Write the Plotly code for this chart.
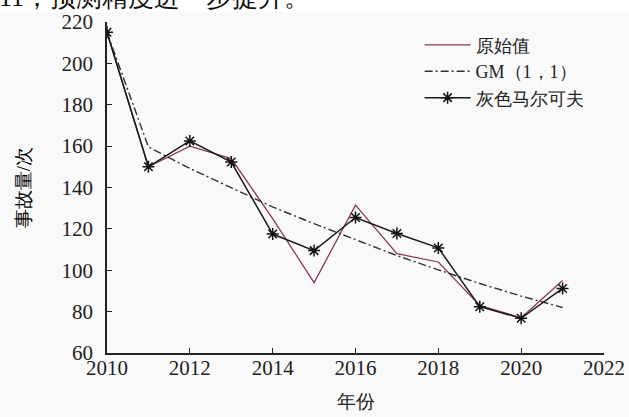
import plotly.graph_objects as go

# Accident counts per year: observed values and two forecast models
years = [2010, 2011, 2012, 2013, 2014, 2015, 2016, 2017, 2018, 2019, 2020, 2021]
original = [215, 150, 160, 154, 125, 94, 131.5, 108, 104, 83, 77, 95]
gm11 = [215, 159.6, 149.2, 139.8, 130.6, 122.5, 114.8, 107.1, 100.2, 93.6, 87.5, 82.0]
grey_markov = [215, 150, 162.5, 152.3, 117.5, 109.5, 125.5, 117.8, 110.8, 82.4, 76.8, 91.2]

x_ticks = [2010, 2012, 2014, 2016, 2018, 2020, 2022]
y_ticks = [60, 80, 100, 120, 140, 160, 180, 200, 220]

FONT = "Liberation Serif"
INK = "#222222"
BG = "#f9f9f9"

fig = go.Figure()
fig.add_trace(go.Scatter(
    x=years, y=original, name="原始值", mode="lines",
    line=dict(color="#8a3a4c", width=1.3),
))
fig.add_trace(go.Scatter(
    x=years, y=gm11, name="GM（1，1）", mode="lines",
    line=dict(color="#333333", width=1.4, dash="8px,3px,2px,3px"),
))
fig.add_trace(go.Scatter(
    x=years, y=grey_markov, name="灰色马尔可夫", mode="lines+markers",
    line=dict(color="#1a1a1a", width=1.5),
    marker=dict(symbol="asterisk-open", size=10, color="#111111",
                line=dict(color="#111111", width=1.5)),
))

fig.update_layout(
    width=629, height=417,
    margin=dict(l=107, r=25, t=22, b=64, pad=0, autoexpand=False),
    paper_bgcolor=BG, plot_bgcolor=BG,
    font=dict(family=FONT, size=21, color=INK),
    showlegend=True,
    legend=dict(
        x=0.629, y=0.986, xanchor="left", yanchor="top",
        bgcolor="rgba(0,0,0,0)", borderwidth=0,
        font=dict(family=FONT, size=18, color=INK),
        tracegroupgap=0, itemwidth=46,
    ),
    xaxis=dict(
        range=[2010, 2022], tickmode="array", tickvals=x_ticks,
        ticktext=[str(v) for v in x_ticks],
        tickfont=dict(family=FONT, size=21, color=INK),
        showgrid=False, zeroline=False, automargin=False,
        showline=True, linecolor=INK, linewidth=1.5,
        ticks="inside", ticklen=5, tickwidth=1.3, tickcolor=INK,
        ticklabelstandoff=-5,
        title=dict(text="年份", font=dict(family=FONT, size=19, color=INK),
                   standoff=16),
    ),
    yaxis=dict(
        range=[60, 220], tickmode="array", tickvals=y_ticks,
        ticktext=[str(v) for v in y_ticks],
        tickfont=dict(family=FONT, size=21, color=INK),
        showgrid=False, zeroline=False, automargin=False,
        showline=True, linecolor=INK, linewidth=1.5,
        ticks="inside", ticklen=5, tickwidth=1.3, tickcolor=INK,
        ticklabelstandoff=8,
        title=dict(text="事故量/次", font=dict(family=FONT, size=19, color="#000000"),
                   standoff=26),
    ),
)

# White strip carrying the tail of the preceding sentence at the very top
fig.add_shape(type="rect", xref="paper", yref="paper",
              x0=-1, x1=2, y0=1.0 + 10 / 331, y1=1.2,
              fillcolor="white", line=dict(width=0), layer="below")
fig.add_annotation(
    text="11，预测精度进一步提升。", xref="paper", yref="paper",
    x=-110 / 497, y=1.0 + 25 / 331, xanchor="left", yanchor="middle",
    showarrow=False, font=dict(family=FONT, size=26, color="#111111"),
)

fig.write_html("out.html")
